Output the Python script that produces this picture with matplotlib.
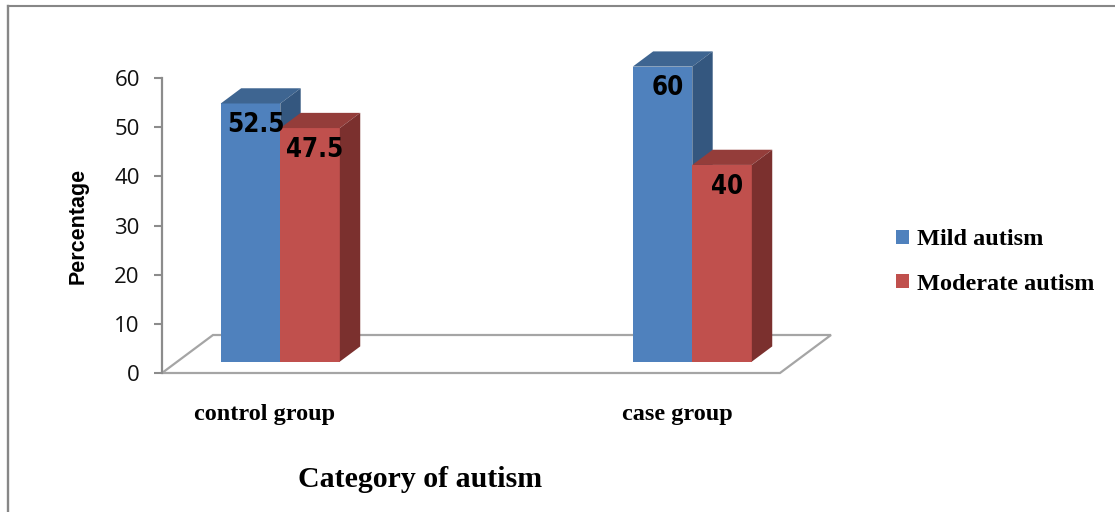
import matplotlib
matplotlib.use("Agg")
import matplotlib.pyplot as plt
from matplotlib.patches import Polygon, Patch
from matplotlib.lines import Line2D
from matplotlib import font_manager

# Data
categories = ["control group", "case group"]
series_names = ["Mild autism", "Moderate autism"]
mild = [52.5, 60]
moderate = [47.5, 40]
y_ticks = [0, 10, 20, 30, 40, 50, 60]

front_colors = ["#4F81BD", "#C0504D"]
top_colors = ["#3E6591", "#943D3A"]
side_colors = ["#34577F", "#7B302E"]

# narrow bold face for the value labels
narrow = [f.name for f in font_manager.fontManager.ttflist
          if "Narrow" in f.name or "Condensed" in f.name]
value_font = font_manager.FontProperties(family="DejaVu Sans", weight="bold",
                                         stretch="condensed", size=18.5)
for cand in ["Liberation Sans Narrow", "DejaVu Sans Condensed"]:
    if cand in narrow:
        value_font = font_manager.FontProperties(family=cand, weight="bold",
                                                 size=18.5)
        break

W, H = 1115, 512
fig = plt.figure(figsize=(W / 100, H / 100), dpi=100)
fig.patch.set_facecolor("white")

# plot area: x from 162px to 780px, y=0 at 373px, y=60 at 78px
ax = fig.add_axes([162 / W, (H - 373) / H, 618 / W, 295 / H])
x0, x1 = -0.25, 1.25
ax.set_xlim(x0, x1)
ax.set_ylim(0, 60)
ax.set_facecolor("none")

# depth vector of the 3D floor, in data units
px_x = 618 / (x1 - x0)
px_y = 295 / 60
DX, DY = 51 / px_x, 38 / px_y

# floor
floor = Polygon([(x0, 0), (x1, 0), (x1 + DX, DY), (x0 + DX, DY)],
                closed=True, facecolor="white", edgecolor="#A5A5A5",
                lw=1.6, zorder=1, clip_on=False)
ax.add_patch(floor)

bar_w = 0.1445
f_front, f_back = 0.3, 0.7
fx, fy = f_front * DX, f_front * DY
dx, dy = (f_back - f_front) * DX, (f_back - f_front) * DY

z = 3
for gi, cat in enumerate(categories):
    for si, vals in enumerate([mild, moderate]):
        v = vals[gi]
        left = gi - bar_w + si * bar_w + fx
        ax.bar(left, v, width=bar_w, bottom=fy, align="edge",
               color=front_colors[si], edgecolor="none", zorder=z, clip_on=False)
        top = Polygon([(left, v + fy), (left + bar_w, v + fy),
                       (left + bar_w + dx, v + fy + dy), (left + dx, v + fy + dy)],
                      closed=True, facecolor=top_colors[si], edgecolor="none",
                      zorder=z, clip_on=False)
        side = Polygon([(left + bar_w, fy), (left + bar_w + dx, fy + dy),
                        (left + bar_w + dx, v + fy + dy), (left + bar_w, v + fy)],
                       closed=True, facecolor=side_colors[si], edgecolor="none",
                       zorder=z, clip_on=False)
        ax.add_patch(top)
        ax.add_patch(side)
        ax.text(left + bar_w / 2 + 5 / px_x, v + fy - 4.4, f"{v:g}",
                ha="center", va="center", fontproperties=value_font,
                color="black", zorder=z + 5)
        z += 1

# axes styling
for s in ["top", "right", "bottom"]:
    ax.spines[s].set_visible(False)
ax.spines["left"].set_color("#8C8C8C")
ax.spines["left"].set_linewidth(1.6)
ax.spines["left"].set_zorder(2)
ax.set_yticks(y_ticks)
ax.set_yticklabels([str(t) for t in y_ticks], fontsize=16,
                   family=["Open Sans", "DejaVu Sans"], color="#111111")
ax.tick_params(axis="y", length=6, width=1.5, color="#8C8C8C", pad=10)

ax.set_xticks(range(len(categories)))
ax.set_xticklabels(categories, fontsize=17.5, fontweight="bold",
                   family="Liberation Serif")
ax.tick_params(axis="x", length=0, pad=22)

ax.set_ylabel("Percentage", fontsize=15.5, fontweight="bold",
              family="Liberation Sans")
ax.yaxis.set_label_coords(-0.118, 0.5)

ax.set_xlabel("Category of autism", fontsize=21.5, fontweight="bold",
              family="Liberation Serif")
ax.xaxis.set_label_coords(0.4175, -0.315)

handles = [Patch(facecolor=c, edgecolor="none") for c in front_colors]
leg = fig.legend(handles, series_names, loc="center left",
                 bbox_to_anchor=(896 / W, 1 - 262 / H), frameon=False,
                 prop={"family": "Liberation Serif", "weight": "bold", "size": 17.5},
                 handlelength=0.55, handleheight=0.55, handletextpad=0.3,
                 labelspacing=0.95, borderpad=0, borderaxespad=0)

# chart frame (top and left edges)
fig.add_artist(Line2D([8 / W, 8 / W], [0, 1 - 6 / H], color="#878787", lw=1.7))
fig.add_artist(Line2D([8 / W, 1], [1 - 6 / H, 1 - 6 / H], color="#878787", lw=1.5))

fig.savefig("out.png", dpi=100, facecolor="white")
